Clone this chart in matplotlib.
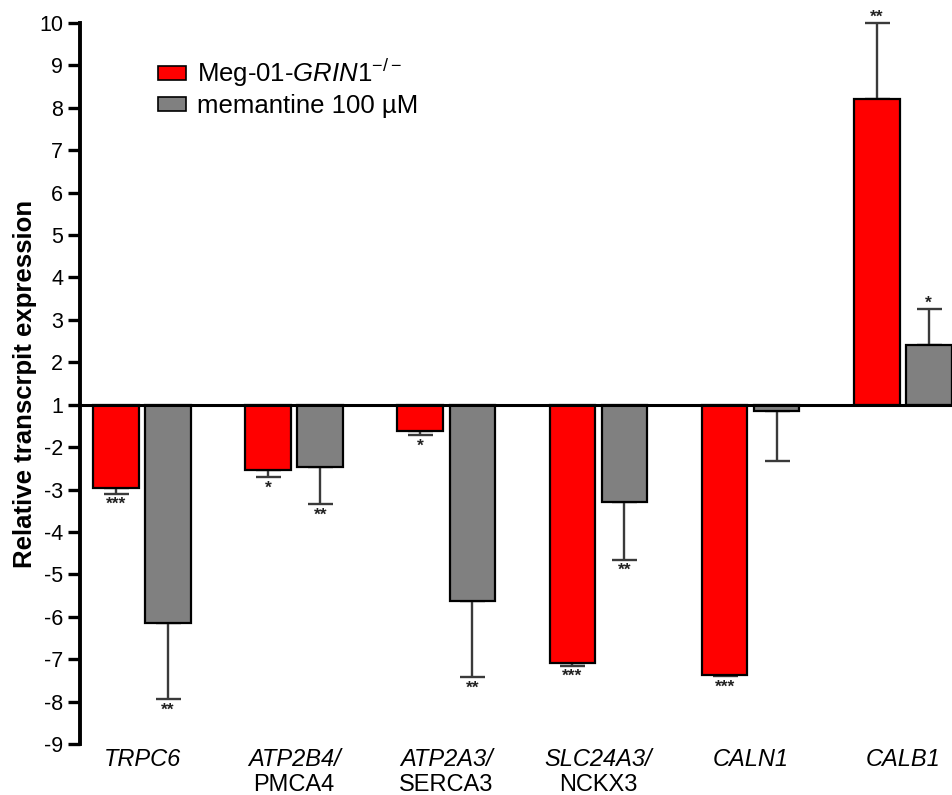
import matplotlib
matplotlib.use("Agg")
import matplotlib.pyplot as plt
import numpy as np
from matplotlib.patches import Patch

plt.rcParams['font.family'] = ['Liberation Sans', 'DejaVu Sans']
plt.rcParams['mathtext.fontset'] = 'custom'
plt.rcParams['mathtext.rm'] = 'Liberation Sans'
plt.rcParams['mathtext.it'] = 'Liberation Sans:italic'

# ---- data (fold change; values between -1 and 1 do not exist on this axis) ----
genes_top = ["TRPC6", "ATP2B4/", "ATP2A3/", "SLC24A3/", "CALN1", "CALB1"]
genes_bottom = ["", "PMCA4", "SERCA3", "NCKX3", "", ""]
series_names = [r"Meg-01-$\mathit{GRIN1}^{-/-}$", "memantine 100 \u00b5M"]
grin1_ko = [-2.97, -2.53, -1.62, -7.10, -7.37, 8.20]
grin1_ko_err_end = [-3.10, -2.70, -1.72, -7.15, -7.40, 10.00]
memantine = [-6.15, -2.48, -5.62, -3.30, -1.15, 2.40]
memantine_err_end = [-7.95, -3.35, -7.42, -4.65, -2.32, 3.25]
grin1_sig = ["***", "*", "*", "***", "***", "**"]
memantine_sig = ["**", "**", "**", "**", "", "*"]
ytick_values = [-9, -8, -7, -6, -5, -4, -3, -2, 1, 2, 3, 4, 5, 6, 7, 8, 9, 10]

def to_axis(v):
    v = np.asarray(v, dtype=float)
    return np.where(v >= 1, v, v + 2)

colors = ["#ff0000", "#808080"]
fig = plt.figure(figsize=(9.52, 7.95), dpi=100)
ax = fig.add_axes([80/952, 51/795, 872/952, 721/795])

x = np.arange(len(genes_top))
w = 0.30
off = 0.171
base = 1.0

for vals, ends, sig, dx, c in [(grin1_ko, grin1_ko_err_end, grin1_sig, -off, colors[0]),
                               (memantine, memantine_err_end, memantine_sig, off, colors[1])]:
    yv = to_axis(vals)
    ye = to_axis(ends)
    ax.bar(x + dx, yv - base, bottom=base, width=w, color=c, edgecolor="black",
           linewidth=1.6, zorder=3)
    lower = np.where(yv < base, yv - ye, 0)
    upper = np.where(yv >= base, ye - yv, 0)
    ax.errorbar(x + dx, yv, yerr=[lower, upper], fmt="none", ecolor="#3a3a3a",
                elinewidth=1.7, capsize=9, capthick=1.7, zorder=2, clip_on=False)
    for xi, e, s, v in zip(x + dx, ye, sig, yv):
        if not s:
            continue
        if v < base:
            ax.annotate(s, (xi, e), xytext=(0, -2.5), textcoords="offset points",
                        ha="center", va="top", fontsize=12.5, fontweight="bold", color="#222222")
        else:
            ax.annotate(s, (xi, e), xytext=(0, -1), textcoords="offset points",
                        ha="center", va="bottom", fontsize=12.5, fontweight="bold", color="#222222",
                        annotation_clip=False)

ax.axhline(base, color="black", linewidth=2.2, zorder=4)

ax.set_xlim(-0.408, 5.324)
ax.set_ylim(-7, 10)
ax.set_yticks(to_axis(ytick_values))
ax.set_yticklabels([str(t) for t in ytick_values], fontsize=15.5)
ax.set_xticks([])
for s in ["top", "right", "bottom"]:
    ax.spines[s].set_visible(False)
ax.spines["left"].set_linewidth(2.8)
ax.tick_params(axis="y", length=9, width=2.4, pad=3)
ax.set_ylabel("Relative transcrpit expression", fontsize=18.5, fontweight="bold", labelpad=2)

trans = ax.get_xaxis_transform()
for xi, t, b in zip(x, genes_top, genes_bottom):
    ax.annotate(t, (xi, 0), xycoords=trans, xytext=(0, -15.5), textcoords="offset points",
                ha="center", va="baseline", fontsize=17, fontstyle="italic", annotation_clip=False)
    if b:
        ax.annotate(b, (xi, 0), xycoords=trans, xytext=(0, -33.5), textcoords="offset points",
                    ha="center", va="baseline", fontsize=17, annotation_clip=False)

handles = [Patch(facecolor=colors[0], edgecolor="black", linewidth=1.2),
           Patch(facecolor=colors[1], edgecolor="black", linewidth=1.2)]
ax.legend(handles, series_names, loc="upper left", bbox_to_anchor=(0.063, 0.985),
          frameon=False, fontsize=18.5, handlelength=1.1, handleheight=0.45,
          handletextpad=0.4, labelspacing=0.2)

fig.savefig("out.png", dpi=100)
